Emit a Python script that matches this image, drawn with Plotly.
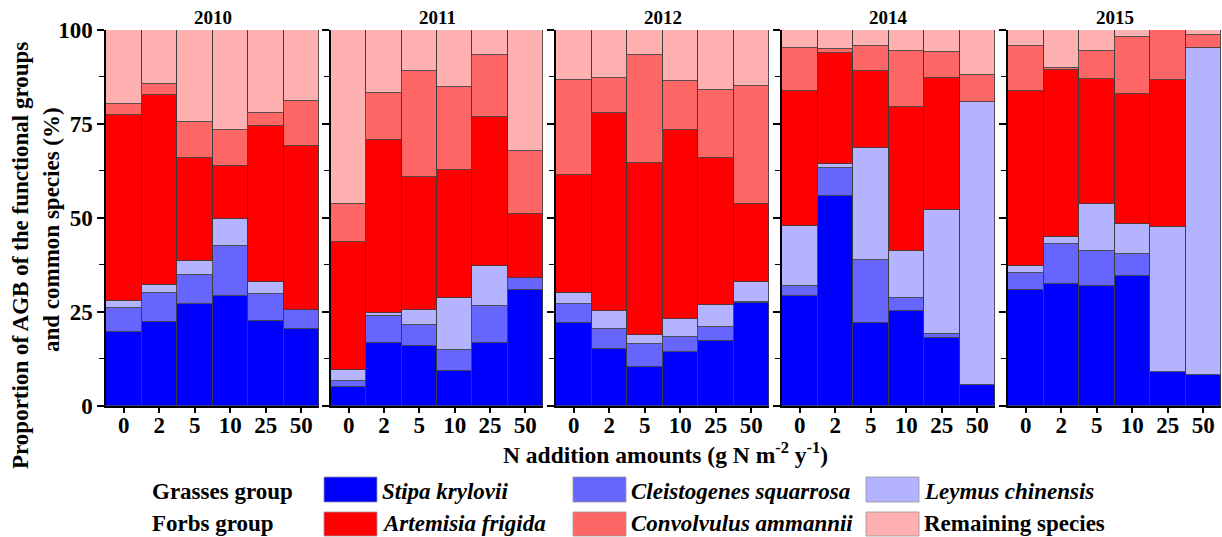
import plotly.graph_objects as go

# ---------------- data ----------------
years = ["2010", "2011", "2012", "2014", "2015"]
n_levels = ["0", "2", "5", "10", "25", "50"]

species = ["Stipa krylovii", "Cleistogenes squarrosa", "Leymus chinensis",
           "Artemisia frigida", "Convolvulus ammannii", "Remaining species"]

# proportions (%) per year (rows) and N level (columns)
stipa_krylovii = [
    [19.5, 22.2, 27.1, 29.3, 22.5, 20.4],
    [4.9, 16.6, 15.9, 9.3, 16.7, 30.8],
    [21.9, 15.2, 10.3, 14.4, 17.3, 27.3],
    [29.1, 55.9, 22.0, 25.1, 17.9, 5.5],
    [30.7, 32.5, 31.8, 34.5, 8.9, 8.1],
]
cleistogenes_squarrosa = [
    [6.6, 7.8, 7.8, 13.3, 7.2, 5.0],
    [1.8, 7.2, 5.5, 5.5, 9.9, 3.2],
    [5.2, 5.2, 6.1, 3.9, 3.6, 0.3],
    [2.8, 7.3, 16.7, 3.6, 1.1, 0.0],
    [4.6, 10.5, 9.4, 6.0, 0.0, 0.0],
]
leymus_chinensis = [
    [1.8, 2.0, 3.6, 7.2, 3.1, 0.0],
    [2.8, 0.9, 4.0, 14.0, 10.6, 0.0],
    [2.9, 4.8, 2.3, 4.9, 5.9, 5.3],
    [16.0, 1.1, 29.9, 12.5, 33.1, 75.3],
    [1.9, 1.8, 12.6, 7.8, 38.7, 87.2],
]
artemisia_frigida = [
    [49.5, 50.7, 27.4, 13.9, 41.6, 43.7],
    [34.1, 46.0, 35.5, 34.0, 39.6, 16.9],
    [31.3, 52.7, 45.8, 50.1, 39.2, 20.8],
    [35.9, 29.5, 20.5, 38.3, 35.1, 0.0],
    [46.5, 44.5, 33.2, 34.7, 39.2, 0.0],
]
convolvulus_ammannii = [
    [2.8, 2.9, 9.7, 9.8, 3.4, 11.9],
    [10.1, 12.4, 28.2, 22.1, 16.5, 17.0],
    [25.4, 9.2, 28.9, 13.2, 17.9, 31.3],
    [11.5, 1.2, 6.6, 15.0, 6.9, 7.3],
    [12.1, 0.5, 7.4, 15.2, 13.2, 3.3],
]
remaining_species = [
    [19.8, 14.4, 24.4, 26.5, 22.2, 19.0],
    [46.3, 16.9, 10.9, 15.1, 6.7, 32.1],
    [13.3, 12.9, 6.6, 13.5, 16.1, 15.0],
    [4.7, 5.0, 4.3, 5.5, 5.9, 11.9],
    [4.2, 10.2, 5.6, 1.8, 0.0, 1.4],
]

series = [stipa_krylovii, cleistogenes_squarrosa, leymus_chinensis,
          artemisia_frigida, convolvulus_ammannii, remaining_species]
colors = ["#0000FF", "#6666FF", "#B3B3FF", "#FF0000", "#FF6666", "#FFB0B0"]

# ---------------- layout geometry ----------------
W, H = 1222, 537
FONT = "Liberation Serif, Times New Roman, serif"
panel_px = [(106, 319), (331, 543), (556, 769), (782, 995), (1008, 1221)]
y_top_px, y_bot_px = 30, 405.7
ydom = [1 - y_bot_px / H, 1 - y_top_px / H]

def px_x(p):
    return p / W

def px_y(p):
    return 1 - p / H

fig = go.Figure()

for i, yr in enumerate(years):
    ax = "" if i == 0 else str(i + 1)
    for s, name in enumerate(species):
        fig.add_trace(go.Bar(
            x=n_levels, y=series[s][i], name=name,
            xaxis="x" + ax, yaxis="y" + ax,
            marker=dict(color=colors[s], line=dict(color="rgba(60,60,60,0.85)", width=1)),
            showlegend=False,
            hovertemplate=name + ": %{y}%<extra>" + yr + "</extra>",
        ))

layout = dict(
    width=W, height=H, autosize=False,
    margin=dict(l=0, r=0, t=0, b=0, pad=0),
    paper_bgcolor="white", plot_bgcolor="white",
    barmode="stack", bargap=0,
    font=dict(family=FONT, color="black"),
)

for i, yr in enumerate(years):
    sfx = "" if i == 0 else str(i + 1)
    x0, x1 = panel_px[i]
    layout["xaxis" + sfx] = dict(
        domain=[px_x(x0), px_x(x1)], anchor="y" + sfx, automargin=False,
        type="category", range=[-0.5, 5.5], fixedrange=True,
        showline=True, linecolor="black", linewidth=1.5,
        ticks="outside", ticklen=6, tickwidth=1.5, tickcolor="black",
        ticklabelstandoff=-8,
        tickfont=dict(family=FONT, size=23, weight="bold", color="black"),
        showgrid=False, zeroline=False,
    )
    layout["yaxis" + sfx] = dict(
        domain=ydom, anchor="x" + sfx, automargin=False,
        range=[0, 100], tick0=0, dtick=25, fixedrange=True,
        showline=True, linecolor="black", linewidth=1.5,
        ticks="outside", ticklen=7, tickwidth=1.5, tickcolor="black",
        minor=dict(dtick=12.5, ticks="outside", ticklen=5, tickwidth=1.2, tickcolor="black"),
        showticklabels=(i == 0),
        tickfont=dict(family=FONT, size=23, weight="bold", color="black"),
        showgrid=False, zeroline=False,
    )

fig.update_layout(**layout)

annotations = []
# panel titles
for i, yr in enumerate(years):
    sfx = "" if i == 0 else str(i + 1)
    annotations.append(dict(
        text=yr, xref="x" + sfx + " domain", x=0.5, yref="paper", y=px_y(18),
        xanchor="center", yanchor="middle", showarrow=False,
        font=dict(family=FONT, size=19, weight="bold", color="black")))

# y-axis title (two lines)
annotations.append(dict(
    text="Proportion of AGB of the functional groups", textangle=-90,
    xref="paper", yref="paper", x=px_x(21), y=px_y(256),
    xanchor="center", yanchor="middle", showarrow=False,
    font=dict(family=FONT, size=23, weight="bold", color="black")))
annotations.append(dict(
    text="and common species (%)", textangle=-90,
    xref="paper", yref="paper", x=px_x(51), y=px_y(230),
    xanchor="center", yanchor="middle", showarrow=False,
    font=dict(family=FONT, size=23, weight="bold", color="black")))

# x-axis title
annotations.append(dict(
    text="N addition amounts (g N m<sup>-2</sup> y<sup>-1</sup>)",
    xref="paper", yref="paper", x=px_x(665), y=px_y(453),
    xanchor="center", yanchor="middle", showarrow=False,
    font=dict(family=FONT, size=23.5, weight="bold", color="black")))

# custom legend
shapes = []
rows = [("Grasses group", [0, 1, 2], (477, 502), 491),
        ("Forbs group", [3, 4, 5], (512, 536), 523)]
sw_x = [(324, 377), (573, 626), (866, 919)]
for label, idxs, (sy0, sy1), ty in rows:
    annotations.append(dict(
        text=label, xref="paper", yref="paper", x=px_x(150), y=px_y(ty),
        xanchor="left", yanchor="middle", showarrow=False,
        font=dict(family=FONT, size=23, weight="bold", color="black")))
    for c, s in enumerate(idxs):
        x0, x1 = sw_x[c]
        shapes.append(dict(type="rect", xref="paper", yref="paper",
                           x0=px_x(x0), x1=px_x(x1), y0=px_y(sy1), y1=px_y(sy0),
                           fillcolor=colors[s], line=dict(color="rgba(150,150,150,0.8)", width=1)))
        name = species[s]
        style = "normal" if name == "Remaining species" else "italic"
        annotations.append(dict(
            text=name, xref="paper", yref="paper", x=px_x(x1 + 3), y=px_y(ty),
            xanchor="left", yanchor="middle", showarrow=False,
            font=dict(family=FONT, size=23, weight="bold", style=style, color="black")))

fig.update_layout(annotations=annotations, shapes=shapes)

fig.write_html("out.html")
